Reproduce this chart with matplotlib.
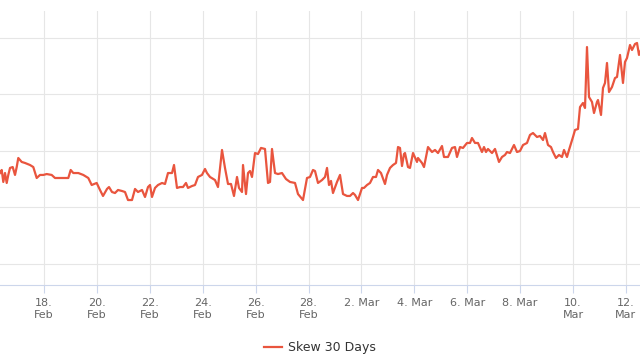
import numpy as np
import pandas as pd
import matplotlib
matplotlib.use("Agg")
import matplotlib.pyplot as plt

# days since 16 Feb 2021 00:00, and 30-day skew readings
day_offset = [
    0.336, 0.401, 0.461, 0.526, 0.590, 0.650, 0.715, 0.817, 0.904, 0.968,
    1.028, 1.157, 1.282, 1.471, 1.595, 1.724, 1.849, 1.974, 2.102, 2.291,
    2.416, 2.605, 2.794, 2.919, 3.009, 3.108, 3.297, 3.486, 3.675, 3.803,
    3.992, 4.117, 4.231, 4.382, 4.458, 4.571, 4.684, 4.798, 4.949, 5.063,
    5.176, 5.327, 5.441, 5.554, 5.705, 5.819, 5.932, 6.008, 6.083, 6.197,
    6.310, 6.462, 6.575, 6.688, 6.840, 6.915, 7.028, 7.142, 7.255, 7.368,
    7.444, 7.595, 7.709, 7.822, 7.973, 8.087, 8.162, 8.276, 8.465, 8.578,
    8.730, 8.843, 8.957, 9.070, 9.183, 9.297, 9.372, 9.486, 9.524, 9.637,
    9.713, 9.788, 9.864, 9.977, 10.091, 10.204, 10.355, 10.469, 10.545, 10.620,
    10.734, 10.847, 10.998, 11.149, 11.301, 11.490, 11.603, 11.792, 11.943, 12.057,
    12.170, 12.246, 12.359, 12.511, 12.624, 12.700, 12.775, 12.851, 12.926, 13.078,
    13.191, 13.305, 13.456, 13.569, 13.683, 13.758, 13.872, 14.023, 14.098, 14.212,
    14.325, 14.439, 14.552, 14.628, 14.741, 14.892, 14.968, 15.081, 15.195, 15.308,
    15.384, 15.459, 15.535, 15.610, 15.648, 15.762, 15.837, 15.951, 16.102, 16.140,
    16.291, 16.367, 16.518, 16.669, 16.783, 16.896, 17.047, 17.123, 17.274, 17.425,
    17.539, 17.614, 17.728, 17.841, 17.992, 18.106, 18.181, 18.295, 18.408, 18.559,
    18.635, 18.711, 18.786, 18.938, 19.051, 19.202, 19.316, 19.429, 19.505, 19.618,
    19.769, 19.883, 19.996, 20.110, 20.261, 20.374, 20.488, 20.639, 20.752, 20.866,
    20.941, 21.055, 21.168, 21.244, 21.357, 21.471, 21.584, 21.660, 21.773, 21.849,
    22.000, 22.076, 22.189, 22.265, 22.378, 22.454, 22.529, 22.605, 22.718, 22.794,
    22.907, 22.945, 23.059, 23.134, 23.210, 23.285, 23.361, 23.474, 23.588, 23.664,
    23.777, 23.890, 23.966, 24.042, 24.155, 24.231, 24.344, 24.420, 24.495, 24.571,
]
skew_30d = [
    -1.95, -1.68, -2.74, -1.95, -2.83, -2.12, -1.50, -1.42, -2.12, -1.42,
    -0.62, -0.97, -1.06, -1.24, -1.42, -2.39, -2.12, -2.12, -2.04, -2.12,
    -2.39, -2.39, -2.39, -2.39, -1.68, -1.95, -1.95, -2.12, -2.39, -3.01,
    -2.83, -3.45, -3.98, -3.36, -3.19, -3.63, -3.72, -3.45, -3.54, -3.63,
    -4.34, -4.34, -3.36, -3.63, -3.45, -4.07, -3.19, -3.01, -4.07, -3.27,
    -3.01, -2.83, -2.92, -1.95, -1.95, -1.24, -3.27, -3.19, -3.19, -2.83,
    -3.27, -3.10, -3.01, -2.30, -2.12, -1.59, -1.95, -2.30, -2.57, -3.19,
    0.09, -1.50, -2.92, -2.92, -3.98, -2.30, -3.27, -3.63, -1.24, -3.81,
    -1.95, -1.77, -2.30, -0.18, -0.27, 0.27, 0.18, -2.83, -2.74, 0.18,
    -1.95, -2.04, -1.95, -2.48, -2.74, -2.83, -3.81, -4.34, -2.39, -2.30,
    -1.68, -1.77, -2.83, -2.57, -2.30, -1.50, -3.01, -2.65, -3.72, -2.74,
    -2.12, -3.81, -3.98, -3.98, -3.72, -3.89, -4.34, -3.27, -3.27, -3.01,
    -2.83, -2.30, -2.30, -1.68, -1.95, -2.92, -2.12, -1.50, -1.24, -1.06,
    0.35, 0.27, -1.33, -0.27, -0.18, -1.42, -1.50, -0.18, -0.97, -0.62,
    -1.06, -1.42, 0.35, -0.09, 0.09, -0.18, 0.44, -0.53, -0.53, 0.27,
    0.35, -0.53, 0.35, 0.27, 0.71, 0.71, 1.15, 0.71, 0.71, -0.09,
    0.35, -0.09, 0.18, -0.18, 0.18, -0.97, -0.53, -0.35, -0.09, -0.18,
    0.53, -0.09, 0.00, 0.53, 0.71, 1.42, 1.59, 1.24, 1.33, 0.97,
    1.59, 0.53, 0.35, -0.09, -0.62, -0.35, -0.53, 0.09, -0.53, 0.09,
    1.24, 1.86, 1.95, 3.89, 4.25, 3.81, 9.20, 4.78, 4.34, 3.36,
    4.34, 4.51, 3.19, 5.58, 6.02, 7.79, 5.22, 5.66, 6.46, 6.55,
    8.50, 6.02, 7.88, 8.23, 9.38, 8.94, 9.47, 9.56, 8.50, 8.94,
]

tick_days = list(range(0, 25, 2))
tick_labels = ["16.\nFeb", "18.\nFeb", "20.\nFeb", "22.\nFeb", "24.\nFeb",
               "26.\nFeb", "28.\nFeb", "2. Mar", "4. Mar", "6. Mar",
               "8. Mar", "10.\nMar", "12.\nMar"]
y_ticks = [-10, -5, 0, 5, 10]

fig = plt.figure(figsize=(6.4, 3.6), dpi=100)
# the plot area runs past the left edge of the picture (cropped view)
ax = fig.add_axes([-60 / 640, 75 / 360, 700 / 640, 274 / 360])

ax.plot(day_offset, skew_30d, color="#e9553e", linewidth=1.6,
        label="Skew 30 Days", solid_joinstyle="round")

ax.set_xticks(tick_days)
ax.set_xticklabels(tick_labels, color="#666666", fontsize=8, va="top",
                   linespacing=1.25)
ax.set_yticks(y_ticks)
ax.set_yticklabels([])
ax.set_xlim((-60 + 8.9) / 26.45, (640 + 8.9) / 26.45)
ax.set_ylim(-11.86, 12.39)
ax.tick_params(axis="y", length=0)
ax.tick_params(axis="x", length=6, color="#ccd6eb", width=0.8, pad=3)

ax.grid(True, color="#e6e6e6", linewidth=0.8)
ax.set_axisbelow(True)
for side in ["top", "left", "right"]:
    ax.spines[side].set_visible(False)
ax.spines["bottom"].set_color("#ccd6eb")
ax.spines["bottom"].set_linewidth(0.8)

fig.legend(loc="center", bbox_to_anchor=(0.5, 12 / 360), frameon=False,
           fontsize=9, handlelength=1.4, handletextpad=0.5,
           labelcolor="#333333")

fig.savefig("out.png", dpi=100)
